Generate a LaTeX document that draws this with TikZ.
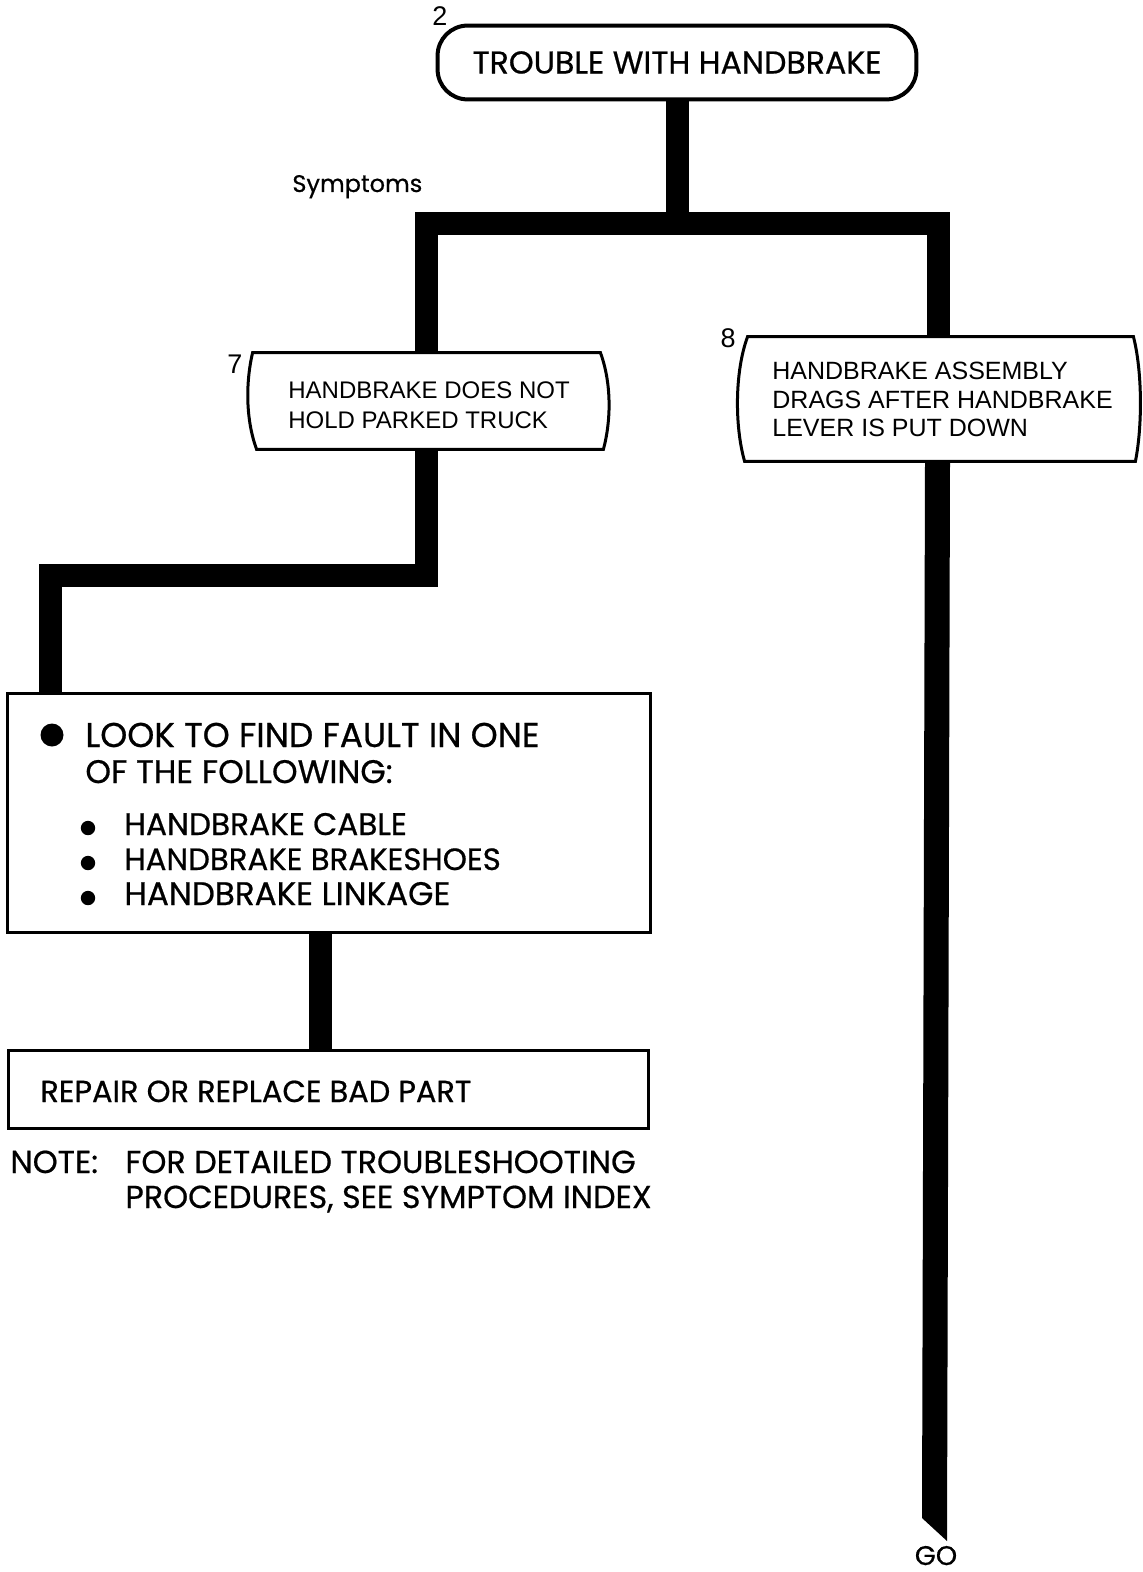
\documentclass[tikz,border=0pt]{standalone}
\usepackage{fontspec}
\setmainfont{Liberation Sans}
\newfontfamily\fut[FakeBold=0.6]{Poppins}
\usetikzlibrary{calc}
\newcommand{\fs}[1]{\fut\fontsize{#1}{#1}\selectfont}
\begin{document}
\begin{tikzpicture}[x=0.5pt,y=-0.5pt,
  conn/.style={line width=11.5pt, line join=miter, line cap=butt},
  outline/.style={line width=1.5pt},
  blank/.style={inner sep=0pt, draw=none},
  lbl/.style={inner sep=0pt, anchor=base west},
  num/.style={inner sep=0pt, font=\fontsize{13.5}{13.5}\selectfont},
  boxtxt/.style={font=\fontsize{12}{15}\selectfont, align=left}
  ]
\useasboundingbox (0,0) rectangle (1143,1572);

% top box
\node[blank, minimum width=239pt, minimum height=36.5pt, font=\fs{15.8}] (top) at (677,62.5) {TROUBLE WITH HANDBRAKE};
\draw[line width=2pt, rounded corners=15pt] (top.north west) rectangle (top.south east);
\node[num] (n2) at (440,16) {2};

% symptoms
\node[lbl, font=\fs{12}] (sym) at (292,192) {Symptoms};

% box 7
\node[blank, minimum width=178pt, minimum height=48pt, boxtxt] (b7) at (426,401) {};
\node[blank, boxtxt, anchor=north west] (b7t) at (288,381) {HANDBRAKE DOES NOT\\HOLD PARKED TRUCK};
\draw[outline]
  ($(b7.north west)+(5,0)$) -- ($(b7.north east)+(-4,0)$)
  .. controls ($(b7.north east)+(7,30)$) and ($(b7.south east)+(7,-30)$) .. ($(b7.south east)+(-1,0)$)
  -- ($(b7.south west)+(9,0)$)
  .. controls ($(b7.south west)+(-2,-30)$) and ($(b7.north west)+(-2,30)$) .. ($(b7.north west)+(5,0)$) -- cycle;
\node[num] (n7) at (235,364) {7};

% box 8
\node[blank, minimum width=201pt, minimum height=62pt] (b8) at (938,399) {};
\node[blank, anchor=north west, font=\fontsize{12.5}{14.25}\selectfont, align=left] (b8t) at (772,362)
  {HANDBRAKE ASSEMBLY\\DRAGS AFTER HANDBRAKE\\LEVER IS PUT DOWN};
\draw[outline]
  ($(b8.north west)+(11,0)$) -- ($(b8.north east)+(-6,0)$)
  .. controls ($(b8.north east)+(3,35)$) and ($(b8.south east)+(3,-35)$) .. ($(b8.south east)+(-4,0)$)
  -- ($(b8.south west)+(8,0)$)
  .. controls ($(b8.south west)+(-2,-35)$) and ($(b8.north west)+(-2,35)$) .. ($(b8.north west)+(11,0)$) -- cycle;
\node[num] (n8) at (728,338) {8};

% look box
\node[blank, draw=black, outline, minimum width=321.5pt, minimum height=119.5pt] (look) at (328.5,812.5) {};
\fill (52,735) circle[radius=5.75pt];
\node[lbl, font=\fs{17.2}] (l1) at (85,747) {LOOK TO FIND FAULT IN ONE};
\node[lbl, font=\fs{16.3}] (l2) at (85,783) {OF THE FOLLOWING:};
\fill (88,828) circle[radius=3.6pt];
\fill (88,863) circle[radius=3.6pt];
\fill (88,898) circle[radius=3.6pt];
\node[lbl, font=\fs{15.6}] (i1) at (124,835) {HANDBRAKE CABLE};
\node[lbl, font=\fs{15.4}] (i2) at (124,870) {HANDBRAKE BRAKESHOES};
\node[lbl, font=\fs{16.3}] (i3) at (124,905) {HANDBRAKE LINKAGE};

% repair box
\node[blank, draw=black, outline, minimum width=320pt, minimum height=39pt] (rep) at (328,1089) {};
\node[lbl, font=\fs{15.2}] (rt) at (40,1102) {REPAIR OR REPLACE BAD PART};

% note
\node[lbl, font=\fs{15.9}] (note) at (10,1173) {NOTE:};
\node[lbl, font=\fs{15.9}] (nt1) at (125,1173) {FOR DETAILED TROUBLESHOOTING};
\node[lbl, font=\fs{15.9}] (nt2) at (125,1208) {PROCEDURES, SEE SYMPTOM INDEX};

% connectors
\coordinate (bar) at (0,224);
\coordinate (e1) at (50,575);
\coordinate (c3) at (320,0);
\coordinate (goend) at (947,1541);
\draw[conn] (top.south) -- (top.south |- bar);
\draw[conn] (b7.north) -- (b7.north |- bar) -- (b8.north |- bar) -- (b8.north);
\draw[conn] (b7.south) -- (b7.south |- e1) -- (e1) -- (e1 |- look.north);
\draw[conn] (look.south -| c3) -- (rep.north -| c3);
\fill ($(b8.south)+(-13,0)$) -- ($(b8.south)+(12,0)$) -- (goend) -- ($(goend)+(-25,-23)$) -- cycle;
\node[anchor=base, inner sep=0pt, font=\fs{13.5}] (go) at (936,1565) {GO};
\end{tikzpicture}
\end{document}
